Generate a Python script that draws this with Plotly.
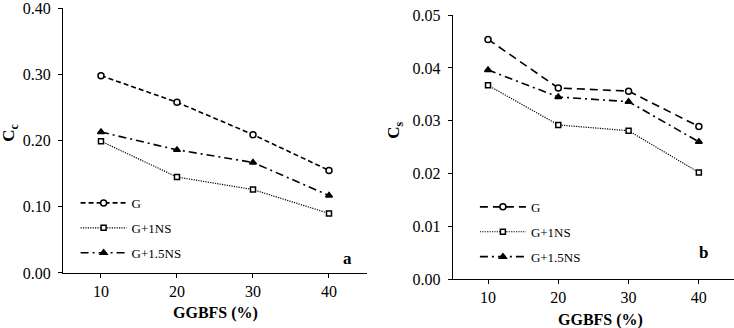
import plotly.graph_objects as go

ggbfs = [10, 20, 30, 40]
series_names = ["G", "G+1NS", "G+1.5NS"]
cc_G = [0.298, 0.258, 0.209, 0.155]
cc_G1NS = [0.199, 0.145, 0.126, 0.090]
cc_G15NS = [0.213, 0.186, 0.167, 0.117]
cs_G = [0.0454, 0.0362, 0.0356, 0.0289]
cs_G1NS = [0.0367, 0.0292, 0.0281, 0.0202]
cs_G15NS = [0.0396, 0.0345, 0.0336, 0.0260]
x_ticks = [10, 20, 30, 40]
cc_ticks = [0.0, 0.1, 0.2, 0.3, 0.4]
cs_ticks = [0.0, 0.01, 0.02, 0.03, 0.04, 0.05]

FONT = "Liberation Serif"
styles_left = [
    dict(dash="5px,3px", width=1.6, symbol="circle", mcolor="white", msize=6),
    dict(dash="1.2px,1.2px", width=1.2, symbol="square", mcolor="white", msize=5),
    dict(dash="8px,4px,2px,4px", width=1.6, symbol="triangle-up", mcolor="black", msize=6),
]
styles_right = [
    dict(dash="8px,5px", width=1.6, symbol="circle", mcolor="white", msize=6),
    dict(dash="1.2px,1.2px", width=1.2, symbol="square", mcolor="white", msize=5),
    dict(dash="8px,4px,2px,4px", width=1.6, symbol="triangle-up", mcolor="black", msize=6),
]

fig = go.Figure()
for data, xa, ya, lg, styles in [
        ((cc_G, cc_G1NS, cc_G15NS), "x", "y", "legend", styles_left),
        ((cs_G, cs_G1NS, cs_G15NS), "x2", "y2", "legend2", styles_right)]:
    for name, vals, st in zip(series_names, data, styles):
        fig.add_trace(go.Scatter(
            x=ggbfs, y=vals, name=name, mode="lines+markers",
            xaxis=xa, yaxis=ya, legend=lg, legendgroup=f"{lg}{name}",
            line=dict(color="black", dash=st["dash"], width=st["width"]),
            marker=dict(symbol=st["symbol"], size=st["msize"], color=st["mcolor"],
                        line=dict(color="black", width=1.5)),
        ))

axis_common = dict(showline=True, linecolor="black", linewidth=1.2, showgrid=False,
                   zeroline=False, ticks="outside", tickcolor="black", ticklen=4,
                   ticklabeloverflow="allow",
                   tickfont=dict(family=FONT, size=16, color="black"), automargin=False)

fig.update_layout(
    width=734, height=328, margin=dict(l=0, r=0, t=0, b=0),
    plot_bgcolor="white", paper_bgcolor="white",
    font=dict(family=FONT, color="black"),
    xaxis=dict(domain=[0.0858, 0.5], range=[5, 45], tickvals=x_ticks, anchor="y", **axis_common),
    yaxis=dict(domain=[0.1677, 0.975], range=[0, 0.40], tickvals=cc_ticks, tickformat=".2f",
               anchor="x", ticklabelstandoff=4, **axis_common),
    xaxis2=dict(domain=[0.617, 1.0], range=[5, 45], tickvals=x_ticks, anchor="y2", **axis_common),
    yaxis2=dict(domain=[0.149, 0.954], range=[0, 0.05], tickvals=cs_ticks, tickformat=".2f",
                anchor="x2", ticklabelstandoff=4, **axis_common),
    legend=dict(x=0.103, y=0.427, xanchor="left", yanchor="top", bgcolor="rgba(0,0,0,0)",
                font=dict(family=FONT, size=13), tracegroupgap=5, itemwidth=46),
    legend2=dict(x=0.647, y=0.415, xanchor="left", yanchor="top", bgcolor="rgba(0,0,0,0)",
                 font=dict(family=FONT, size=13), tracegroupgap=5, itemwidth=46),
    showlegend=True,
)

annots = [
    dict(text="<b>GGBFS (%)</b>", x=0.293, y=0.045, size=16, angle=0),
    dict(text="<b>GGBFS (%)</b>", x=0.818, y=0.025, size=16, angle=0),
    dict(text="<b>C<sub>c</sub></b>", x=0.0136, y=0.595, size=17, angle=-90),
    dict(text="<b>C<sub>s</sub></b>", x=0.538, y=0.604, size=17, angle=-90),
    dict(text="<b>a</b>", x=0.473, y=0.213, size=17, angle=0),
    dict(text="<b>b</b>", x=0.959, y=0.229, size=17, angle=0),
]
for a in annots:
    fig.add_annotation(text=a["text"], x=a["x"], y=a["y"], xref="paper", yref="paper",
                       showarrow=False, textangle=a["angle"], xanchor="center", yanchor="middle",
                       font=dict(family=FONT, size=a["size"], color="black"))

fig.write_html("out.html")
